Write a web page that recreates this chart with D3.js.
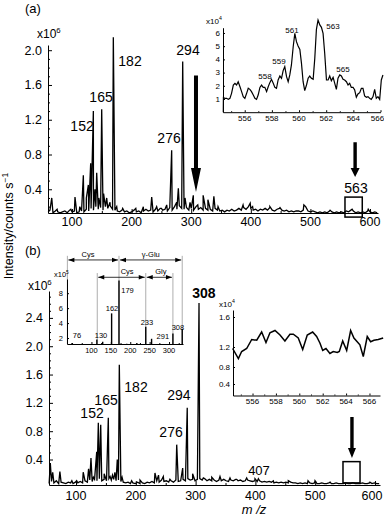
<!DOCTYPE html>
<html>
<head>
<meta charset="utf-8">
<script src="https://cdn.jsdelivr.net/npm/d3@7"></script>
<style>
body { margin:0; background:#fff; }
svg text { font-family: "Liberation Sans", Arial, sans-serif; fill:#000; }
.axis path, .axis line { stroke:#000; stroke-width:1; }
</style>
</head>
<body>
<svg id="fig" width="384" height="517"></svg>
<script>
// ---- panel (a): baseline noise and peaks, m/z vs intensity (x10^6) ----
var noiseA = [[60,0.14],[63,0.16],[68,0.13],[72,0.15],[76,0.14],[80,0.13],[84,0.14],[88,0.15],[92,0.13],[96,0.16],
  [100,0.14],[104,0.15],[108,0.13],[112,0.14],[116,0.15],[120,0.14],[124,0.17],[128,0.15],[132,0.18],[136,0.16],
  [140,0.2],[144,0.17],[148,0.19],[152,0.16],[156,0.2],[160,0.18],[164,0.21],[168,0.17],[172,0.16],[176,0.15],
  [180,0.14],[184,0.16],[188,0.14],[192,0.15],[196,0.13],[200,0.14],[204,0.16],[208,0.14],[212,0.15],[216,0.13],
  [220,0.15],[224,0.17],[228,0.15],[232,0.16],[236,0.14],[240,0.17],[244,0.15],[248,0.18],[252,0.16],[256,0.17],
  [260,0.15],[264,0.19],[268,0.16],[272,0.2],[276,0.17],[280,0.21],[284,0.18],[288,0.17],[292,0.19],[296,0.16],
  [300,0.18],[304,0.16],[308,0.2],[312,0.17],[316,0.19],[320,0.16],[324,0.18],[328,0.16],[332,0.17],[336,0.15],
  [340,0.18],[344,0.16],[348,0.15],[352,0.16],[356,0.14],[360,0.16],[364,0.15],[368,0.17],[372,0.15],[376,0.16],
  [380,0.18],[384,0.16],[388,0.19],[392,0.17],[396,0.2],[400,0.18],[404,0.16],[408,0.17],[412,0.15],[416,0.17],
  [420,0.16],[424,0.18],[428,0.16],[432,0.19],[436,0.16],[440,0.15],[444,0.17],[448,0.18],[452,0.16],[456,0.15],
  [460,0.16],[464,0.14],[468,0.15],[472,0.14],[476,0.15],[480,0.15],[484,0.14],[488,0.16],[492,0.2],[496,0.15],
  [500,0.14],[504,0.15],[508,0.14],[512,0.13],[516,0.14],[520,0.13],[524,0.14],[528,0.13],[532,0.15],[536,0.14],
  [540,0.13],[544,0.14],[548,0.13],[552,0.14],[556,0.13],[560,0.15],[564,0.14],[568,0.16],[572,0.15],[576,0.13],
  [580,0.14],[584,0.13],[588,0.14],[592,0.13],[596,0.15],[600,0.14],[604,0.13],[608,0.14],[612,0.13]];
var peaksA = [[66,0.30],[75,0.17],[98,0.17],[105,0.31],[113,0.2],[119,0.56],[124,0.3],[127.4,0.45],[131.3,0.70],
  [135.8,1.30],[138.5,0.4],[141.4,0.59],[145,0.3],[149.8,1.32],[153,0.35],[158.2,0.30],[163.8,0.25],[169.3,2.15],
  [175,0.2],[185,0.18],[207,0.18],[219.7,0.2],[233.7,0.31],[242,0.2],[250,0.18],[258.9,0.22],[267.2,0.85],
  [275.6,0.25],[278.4,0.41],[285.7,1.87],[289.6,0.3],[298,0.25],[303.5,0.33],[311,0.22],[320,0.33],[328,0.28],
  [338,0.32],[345,0.2],[387,0.22],[399,0.24],[403,0.2],[432,0.2],[449,0.19],[489,0.22],[533,0.16],[570,0.17],[597,0.17]];
var labelsA = [["152",116.8,1.07],["165",148.7,1.40],["182",197.3,1.82],["294",294.6,1.94],["276",262.8,0.93]];

// inset (a): m/z 555-566, intensity x10^4
var insetA = [[554.42,0.0],[554.43,1.10],[554.54,1.05],[554.67,1.05],[554.79,0.97],[554.91,1.05],[555.03,1.43],
  [555.16,2.06],[555.28,2.19],[555.40,2.06],[555.52,2.31],[555.65,1.93],[555.77,1.56],[555.89,1.18],[556.01,1.05],
  [556.14,1.43],[556.26,1.81],[556.38,1.73],[556.50,1.56],[556.63,1.30],[556.75,1.05],[556.87,0.97],[556.99,1.30],
  [557.12,1.88],[557.24,2.06],[557.36,1.88],[557.48,1.88],[557.61,1.56],[557.73,1.93],[557.85,2.24],[557.97,2.49],
  [558.10,2.19],[558.22,1.88],[558.34,1.81],[558.46,2.44],[558.59,2.74],[558.71,2.57],[558.83,3.15],[558.95,3.45],
  [559.08,2.69],[559.20,2.31],[559.32,2.82],[559.44,3.58],[559.57,4.96],[559.69,5.97],[559.81,5.34],[559.93,5.02],
  [560.06,4.76],[560.18,3.70],[560.30,2.31],[560.42,1.63],[560.55,2.06],[560.67,2.57],[560.79,2.74],[560.91,2.57],
  [561.04,2.49],[561.16,4.08],[561.28,6.28],[561.40,6.98],[561.53,6.61],[561.65,6.43],[561.77,5.97],[561.89,4.46],
  [562.02,2.44],[562.14,2.44],[562.26,2.74],[562.38,2.39],[562.51,2.64],[562.63,2.19],[562.75,1.73],[562.87,2.57],
  [563.00,2.82],[563.12,2.74],[563.24,2.49],[563.36,2.44],[563.49,2.31],[563.61,2.06],[563.73,2.19],[563.85,1.88],
  [563.98,1.88],[564.10,1.68],[564.22,1.13],[564.34,1.38],[564.47,1.48],[564.59,1.81],[564.71,1.81],[564.83,1.23],
  [564.96,1.13],[565.08,1.18],[565.20,1.05],[565.32,0.97],[565.45,1.18],[565.57,1.73],[565.69,1.05],[565.81,1.18],
  [565.94,0.97],[566.06,2.44],[566.18,2.82]];
var insetALabels = [["558",557.49,2.52],["559",558.52,3.65],["561",559.48,6.0],["563",562.5,6.3],["565",563.24,3.05]];
var insetTicksX = ["556","558","560","562","564","566"];
var insetATicksY = ["1","2","3","4","5","6"];

// ---- panel (b) ----
var noiseB = [[55,0.06],[59,0.09],[63,0.07],[67,0.1],[71,0.06],[75,0.08],[79,0.07],[83,0.06],[87,0.08],[91,0.07],
  [95,0.06],[99,0.08],[103,0.07],[107,0.09],[111,0.07],[115,0.1],[119,0.08],[123,0.11],[127,0.09],[131,0.12],
  [135,0.1],[139,0.13],[143,0.1],[147,0.12],[151,0.1],[155,0.13],[159,0.11],[163,0.12],[167,0.1],[171,0.11],
  [175,0.09],[179,0.08],[183,0.07],[187,0.08],[191,0.06],[195,0.07],[199,0.06],[203,0.08],[207,0.06],[211,0.07],
  [215,0.06],[219,0.08],[223,0.07],[227,0.09],[231,0.07],[235,0.1],[239,0.08],[243,0.11],[247,0.09],[251,0.1],
  [255,0.08],[259,0.1],[263,0.08],[267,0.11],[271,0.09],[275,0.1],[279,0.12],[283,0.1],[287,0.13],[291,0.11],
  [295,0.12],[299,0.1],[303,0.12],[307,0.13],[311,0.11],[315,0.13],[319,0.1],[323,0.12],[327,0.1],[331,0.11],
  [335,0.09],[339,0.11],[343,0.1],[347,0.12],[351,0.1],[355,0.09],[359,0.11],[363,0.1],[367,0.12],[371,0.1],
  [375,0.11],[379,0.09],[383,0.1],[387,0.11],[391,0.1],[395,0.09],[399,0.1],[403,0.09],[407,0.1],[411,0.08],
  [415,0.09],[419,0.08],[423,0.09],[427,0.08],[431,0.07],[435,0.08],[439,0.07],[443,0.08],[447,0.07],[451,0.08],
  [455,0.07],[459,0.08],[463,0.07],[467,0.07],[471,0.06],[475,0.07],[479,0.06],[483,0.07],[487,0.06],[491,0.07],
  [495,0.06],[499,0.07],[503,0.06],[507,0.06],[511,0.07],[515,0.06],[519,0.06],[523,0.07],[527,0.06],[531,0.06],
  [535,0.07],[539,0.06],[543,0.06],[547,0.06],[551,0.07],[555,0.06],[559,0.06],[563,0.07],[567,0.06],[571,0.06],
  [575,0.06],[579,0.07],[583,0.06],[587,0.06],[591,0.07],[595,0.06],[599,0.07],[603,0.06],[607,0.06]];
var peaksB = [[57,0.35],[61,0.22],[73,0.23],[93,0.1],[101,0.1],[112,0.22],[121,0.27],[125,0.42],[129,0.15],
  [134.6,0.51],[137.3,0.92],[141.3,0.89],[147,0.2],[154,0.99],[157,0.16],[161,0.18],[165,0.22],[169,0.40],
  [172.4,1.74],[177,0.15],[193,0.1],[207,0.11],[232,0.21],[238,0.18],[246,0.16],[257,0.12],[268.4,0.61],
  [278.4,0.28],[286,1.13],[295,0.2],[305.7,2.61],[312.9,0.14],[327,0.15],[340.8,0.16],[357.5,0.14],[368.7,0.12],
  [385.4,0.14],[399.3,0.13],[405,0.13],[430,0.1],[455,0.1],[488,0.1],[499.7,0.1],[525,0.08],[591.6,0.08]];
var labelsB = [["152",126.8,0.99],["165",150.2,1.17],["182",200.3,1.36],["276",258.9,0.72],["294",272.2,1.24]];

// inset (b) right: m/z 555-567, intensity x10^4
var insetB = [[554.30,1.17],[554.79,0.97],[555.07,1.11],[555.50,1.17],[555.93,1.30],[556.36,1.29],[556.78,1.40],
  [557.15,1.26],[557.49,1.39],[557.92,1.42],[558.35,1.36],[558.77,1.28],[559.20,1.37],[559.49,1.37],[559.91,1.32],
  [560.29,1.15],[560.68,1.36],[561.14,1.40],[561.48,1.34],[561.77,1.25],[562.00,1.13],[562.28,1.17],[562.62,1.07],
  [562.90,1.11],[563.25,1.09],[563.42,1.11],[563.71,1.28],[564.05,1.13],[564.39,1.42],[564.67,1.32],[564.95,1.27],
  [565.18,1.23],[565.47,1.01],[565.81,1.34],[566.10,1.27],[566.38,1.29],[566.75,1.30],[567.17,1.32]];
var insetBTicksY = ["0.4","0.8","1.2","1.6"];

// inset (b) left: fragment sticks, m/z vs intensity x10^5
var sticks = [[50,1.35],[114,1.8],[129,1.5],[152,5.3],[171,9.7],[191,1.25],[217,1.35],[240,3.5],[255,1.9],[310,2.6],[334,3.2]];
var stickLabels = [["76",62.8,2.02],["130",124.6,2.02],["162",153,5.62],["179",193,8.03],["233",243,3.75],["291",284,1.88],["308",323,3.08]];
var stickTicksX = ["100","150","200","250","300"];
var stickTicksY = ["2","4","6","8"];
// [from m/z, to m/z, row level, text, text m/z]
var spans = [[38,171,12.45,"Cys",91],[171,334,12.45,"\u03b3-Glu",253],[115,240,10.13,"Cys",192],[240,310,10.13,"Gly",279]];
var guides = [[38,13.0],[115,10.7],[171,13.0],[240,10.7],[310,10.7],[334,13.0]];

var mainTicksX = ["100","200","300","400","500","600"];
var mainMinorX = [150,250,350,450,550];
var ticksYA = ["0.4","0.8","1.2","1.6","2.0"];
var ticksYB = ["0.4","0.8","1.2","1.6","2.0","2.4"];

var svg = d3.select("#fig");

function spectrum(noise, peaks) {
  return noise.concat(peaks).sort(function(a, b) { return a[0] - b[0]; });
}

function bigArrow(g, x, yTop, yTip, hw, headW, headL) {
  g.append("path")
    .attr("d", "M" + (x - hw) + "," + yTop + "L" + (x + hw) + "," + yTop + "L" + (x + hw) + "," + (yTip - headL) +
      "L" + (x + headW) + "," + (yTip - headL) + "L" + x + "," + yTip + "L" + (x - headW) + "," + (yTip - headL) +
      "L" + (x - hw) + "," + (yTip - headL) + "Z")
    .attr("fill", "#000");
}

// axis lines and ticks through d3, labels (strings) as plain text elements
function drawAxes(g, sx, sy, xTicks, xMinor, yTicks, yMinor, fs, padX, padY, tick) {
  var x0 = sx.range()[0], y0 = sy.range()[0];
  var xv = xTicks.map(Number), yv = yTicks.map(Number);
  g.append("g").attr("class", "axis").attr("transform", "translate(0," + y0 + ")")
    .call(d3.axisBottom(sx).tickValues(xv).tickSize(-tick).tickSizeOuter(0).tickFormat(""));
  g.append("g").attr("class", "axis").attr("transform", "translate(0," + y0 + ")")
    .call(d3.axisBottom(sx).tickValues(xMinor).tickSize(-tick / 2).tickSizeOuter(0).tickFormat(""))
    .select(".domain").remove();
  g.append("g").attr("class", "axis").attr("transform", "translate(" + x0 + ",0)")
    .call(d3.axisLeft(sy).tickValues(yv).tickSize(-tick).tickSizeOuter(0).tickFormat(""));
  g.append("g").attr("class", "axis").attr("transform", "translate(" + x0 + ",0)")
    .call(d3.axisLeft(sy).tickValues(yMinor).tickSize(-tick / 2).tickSizeOuter(0).tickFormat(""))
    .select(".domain").remove();
  var xl = g.selectAll(null).data(xTicks).enter().append("text")
    .attr("x", function(d) { return sx(+d); }).attr("y", y0 + padX + fs * 0.72)
    .attr("text-anchor", "middle").style("font-size", fs + "px").text(function(d) { return d; });
  g.selectAll(null).data(yTicks).enter().append("text")
    .attr("x", x0 - padY).attr("y", function(d) { return sy(+d) + fs * 0.35; })
    .attr("text-anchor", "end").style("font-size", fs + "px").text(function(d) { return d; });
  return xl;
}

function lineOf(sx, sy) {
  return d3.line().x(function(d) { return sx(d[0]); }).y(function(d) { return sy(d[1]); });
}

function sup(x, y, base, exp, fs) {
  var tx = svg.append("text").attr("x", x).attr("y", y).attr("font-size", fs).text(base);
  tx.append("tspan").attr("dy", -fs * 0.45).attr("font-size", fs * 0.65).text(exp);
  return tx;
}

// ===== panel (a) =====
var sxA = d3.scaleLinear().domain([59.7, 613.4]).range([48, 378]);
var syA = d3.scaleLinear().domain([0.127, 2.06]).range([213, 45]);
var gA = svg.append("g");
drawAxes(gA, sxA, syA, mainTicksX, mainMinorX, ticksYA,
  [0.2,0.3,0.5,0.6,0.7,0.9,1.0,1.1,1.3,1.4,1.5,1.7,1.8,1.9], 12.5, 4, 6, 4);
gA.append("path").datum(spectrum(noiseA, peaksA)).attr("d", lineOf(sxA, syA))
  .attr("fill", "none").attr("stroke", "#000").attr("stroke-width", 1.3);
gA.selectAll(".pl").data(labelsA).enter().append("text")
  .attr("x", function(d) { return sxA(d[1]); }).attr("y", function(d) { return syA(d[2]); })
  .attr("text-anchor", "middle").attr("font-size", 14).text(function(d) { return d[0]; });
bigArrow(gA, sxA(308), syA(1.71), syA(0.37), 2, 5, 24);
bigArrow(gA, sxA(575), syA(0.94), syA(0.54), 1.7, 4.5, 9);
gA.append("rect").attr("x", sxA(558)).attr("y", syA(0.31)).attr("width", sxA(587) - sxA(558))
  .attr("height", syA(0.08) - syA(0.31)).attr("fill", "none").attr("stroke", "#000").attr("stroke-width", 1.5);
gA.append("text").attr("x", sxA(576.5)).attr("y", syA(0.357)).attr("text-anchor", "middle").attr("font-size", 14).text("563");
svg.append("text").attr("x", 25).attr("y", 13).attr("font-size", 13).text("(a)");
sup(37, 38, "x10", "6", 12);

// inset (a)
var ixA = d3.scaleLinear().domain([554.4, 566]).range([223, 380.5]);
var iyA = d3.scaleLinear().domain([0, 6.4]).range([112.2, 27.7]);
var giA = svg.append("g");
drawAxes(giA, ixA, iyA, insetTicksX, [555,557,559,561,563,565], insetATicksY, [], 8, 3, 3, 2)
  .filter(function(d) { return d === "566"; }).attr("dx", -3);
giA.append("path").datum(insetA).attr("d", lineOf(ixA, iyA))
  .attr("fill", "none").attr("stroke", "#000").attr("stroke-width", 1.2);
giA.selectAll(".il").data(insetALabels).enter().append("text")
  .attr("x", function(d) { return ixA(d[1]); }).attr("y", function(d) { return iyA(d[2]); })
  .attr("text-anchor", "middle").attr("font-size", 8).text(function(d) { return d[0]; });
sup(206, 24, "x10", "4", 8);

// ===== panel (b) =====
var sxB = d3.scaleLinear().domain([54.8, 608.4]).range([49, 380]);
var syB = d3.scaleLinear().domain([0.04, 2.78]).range([485, 291]);
var gB = svg.append("g");
drawAxes(gB, sxB, syB, mainTicksX, mainMinorX, ticksYB,
  [0.2,0.3,0.5,0.6,0.7,0.9,1.0,1.1,1.3,1.4,1.5,1.7,1.8,1.9,2.1,2.2,2.3,2.5,2.6,2.7], 12.5, 6, 6, 4)
  .filter(function(d) { return d === "600"; }).attr("dx", -3);
gB.append("path").datum(spectrum(noiseB, peaksB)).attr("d", lineOf(sxB, syB))
  .attr("fill", "none").attr("stroke", "#000").attr("stroke-width", 1.3);
gB.selectAll(".pl").data(labelsB).enter().append("text")
  .attr("x", function(d) { return sxB(d[1]); }).attr("y", function(d) { return syB(d[2]); })
  .attr("text-anchor", "middle").attr("font-size", 14).text(function(d) { return d[0]; });
gB.append("text").attr("x", sxB(314)).attr("y", syB(2.68)).attr("text-anchor", "middle")
  .attr("font-size", 14).attr("font-weight", "bold").text("308");
gB.append("text").attr("x", sxB(406)).attr("y", syB(0.18)).attr("text-anchor", "middle").attr("font-size", 13).text("407");
bigArrow(gB, sxB(561.5), syB(1.0), syB(0.42), 1.7, 4, 10);
gB.append("rect").attr("x", sxB(546.5)).attr("y", syB(0.37)).attr("width", sxB(575) - sxB(546.5))
  .attr("height", syB(0.07) - syB(0.37)).attr("fill", "none").attr("stroke", "#000").attr("stroke-width", 1.5);
svg.append("text").attr("x", 25).attr("y", 255).attr("font-size", 13).text("(b)");
sup(28, 290, "x10", "6", 12);
svg.append("text").attr("x", 254).attr("y", 514).attr("text-anchor", "middle").attr("font-size", 13)
  .attr("font-style", "italic").text("m /z");

// inset (b) right
var ixB = d3.scaleLinear().domain([554.33, 566.9]).range([233, 380]);
var iyB = d3.scaleLinear().domain([0.13, 0.4, 0.8, 1.2, 1.6, 1.69]).range([395.5, 384, 367, 347, 317, 310]);
var giB = svg.append("g");
drawAxes(giB, ixB, iyB, insetTicksX, [555,557,559,561,563,565], insetBTicksY, [], 8, 3, 3, 2);
giB.append("path").datum(insetB).attr("d", lineOf(ixB, iyB))
  .attr("fill", "none").attr("stroke", "#000").attr("stroke-width", 1.5);
sup(219, 307, "x10", "4", 8);

// inset (b) left: sticks and fragment spans
var gx = d3.scaleLinear().domain([37, 336]).range([67, 183]);
var gy = d3.scaleLinear().domain([1.2, 9.9]).range([344, 279]);
var gs = svg.append("g");
gs.selectAll(".gd").data(guides).enter().append("line")
  .attr("x1", function(d) { return gx(d[0]); }).attr("x2", function(d) { return gx(d[0]); })
  .attr("y1", function(d) { return gy(d[1]); }).attr("y2", gy(1.2))
  .attr("stroke", "#999").attr("stroke-width", 0.8);
drawAxes(gs, gx, gy, stickTicksX, [50,75,125,175,225,275,325], stickTicksY, [3,5,7,9], 7.5, 3.5, 4, 2);
gs.selectAll(".st").data(sticks).enter().append("line")
  .attr("x1", function(d) { return gx(d[0]); }).attr("x2", function(d) { return gx(d[0]); })
  .attr("y1", gy(1.2)).attr("y2", function(d) { return gy(d[1]); })
  .attr("stroke", "#000").attr("stroke-width", 1.4);
gs.selectAll(".sl").data(stickLabels).enter().append("text")
  .attr("x", function(d) { return gx(d[1]); }).attr("y", function(d) { return gy(d[2]); })
  .attr("text-anchor", "middle").attr("font-size", 7.5).text(function(d) { return d[0]; });
spans.forEach(function(s) {
  var x1 = gx(s[0]) + 1, x2 = gx(s[1]) - 1, y = gy(s[2]);
  gs.append("line").attr("x1", x1).attr("x2", x2).attr("y1", y).attr("y2", y).attr("stroke", "#000").attr("stroke-width", 0.8);
  gs.append("path").attr("d", "M" + x1 + "," + y + "l6,-2.2l0,4.4Z").attr("fill", "#000");
  gs.append("path").attr("d", "M" + x2 + "," + y + "l-6,-2.2l0,4.4Z").attr("fill", "#000");
  gs.append("text").attr("x", gx(s[4])).attr("y", y - 3).attr("text-anchor", "middle").attr("font-size", 7.5).text(s[3]);
});
sup(54, 277, "x10", "5", 7.5);

// y axis title
var yt = svg.append("text").attr("transform", "translate(13,226) rotate(-90)").attr("text-anchor", "middle")
  .attr("font-size", 12.5).text("Intensity/counts s");
yt.append("tspan").attr("dy", -5).attr("font-size", 8.5).text("\u22121");
</script>
</body>
</html>
